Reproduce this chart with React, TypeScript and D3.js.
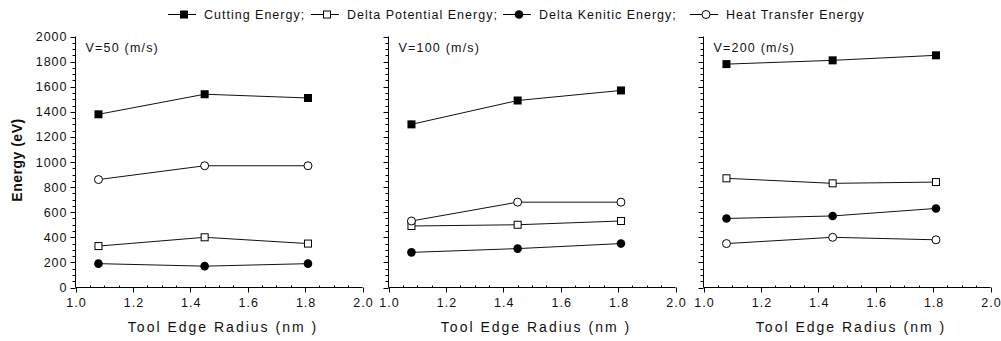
import React from 'react';
import * as d3 from 'd3';

// tool edge radius (nm) sampled in every panel
const radius = [1.08, 1.45, 1.81];
// one panel per cutting velocity
const panelLabels = ['V=50 (m/s)', 'V=100 (m/s)', 'V=200 (m/s)'];
// energies (eV), one row per panel
const cuttingEnergy = [
  [1380, 1540, 1510],
  [1300, 1490, 1570],
  [1780, 1810, 1850],
];
const potentialEnergy = [
  [330, 400, 350],
  [490, 500, 530],
  [870, 830, 840],
];
const kineticEnergy = [
  [190, 170, 190],
  [280, 310, 350],
  [550, 570, 630],
];
const heatEnergy = [
  [860, 970, 970],
  [530, 680, 680],
  [350, 400, 380],
];
const seriesNames = ['Cutting Energy;', 'Delta Potential Energy;', 'Delta Kenitic Energy;', 'Heat Transfer Energy'];
const yTicks = [0, 200, 400, 600, 800, 1000, 1200, 1400, 1600, 1800, 2000];
const xTicks = [1.0, 1.2, 1.4, 1.6, 1.8, 2.0];

const W = 1001;
const H = 341;
const panelLeft = [75.5, 388.5, 703.5];
const panelW = 287;
const top = 36.5;
const bottom = 287.5;
const legendX = [184, 327, 519, 706];
const font = '"Liberation Sans", Arial, sans-serif';
const ink = '#111';

type Shape = 'sq' | 'sqo' | 'ci' | 'cio';
const shapes: Shape[] = ['sq', 'sqo', 'ci', 'cio'];

const Marker = ({ x, y, shape }: { x: number; y: number; shape: Shape }) => {
  if (shape === 'sq') return <rect x={x - 4} y={y - 4} width={8} height={8} fill="#000" />;
  if (shape === 'sqo') return <rect x={x - 3.5} y={y - 3.5} width={7} height={7} fill="#fff" stroke="#000" strokeWidth={1} />;
  if (shape === 'ci') return <circle cx={x} cy={y} r={4.3} fill="#000" />;
  return <circle cx={x} cy={y} r={4} fill="#fff" stroke="#000" strokeWidth={1} />;
};

const Panel = ({ idx }: { idx: number }) => {
  const x0 = panelLeft[idx];
  const x = d3.scaleLinear().domain([1, 2]).range([x0, x0 + panelW]);
  const y = d3.scaleLinear().domain([0, 2000]).range([bottom, top]);
  const series = [cuttingEnergy[idx], potentialEnergy[idx], kineticEnergy[idx], heatEnergy[idx]];
  const line = d3.line<number>().x((_, i) => x(radius[i])).y((d) => y(d));
  const yMinor = d3.range(0, 2001, 50).filter((v) => v % 200 !== 0);
  const xMinor = d3.range(1, 2.0001, 0.05).filter((v) => Math.abs(Math.round(v * 5) - v * 5) > 0.01);

  return (
    <g>
      {/* axes */}
      <line x1={x0} x2={x0} y1={top} y2={bottom} stroke="#000" />
      <line x1={x0} x2={x0 + panelW} y1={bottom} y2={bottom} stroke="#000" />
      {yTicks.map((t) => (
        <g key={'y' + t}>
          <line x1={x0 - 5} x2={x0} y1={Math.round(y(t)) + 0.5} y2={Math.round(y(t)) + 0.5} stroke="#000" />
          {idx === 0 && (
            <text x={x0 - 8} y={y(t) + 4.5} textAnchor="end" fontSize={12.5} letterSpacing={1} fill={ink}>
              {t}
            </text>
          )}
        </g>
      ))}
      {yMinor.map((t) => (
        <line key={'ym' + t} x1={x0 - 3} x2={x0} y1={Math.round(y(t)) + 0.5} y2={Math.round(y(t)) + 0.5} stroke="#000" />
      ))}
      {xTicks.map((t) => (
        <g key={'x' + t}>
          <line x1={Math.round(x(t)) + 0.5} x2={Math.round(x(t)) + 0.5} y1={bottom} y2={bottom + 5} stroke="#000" />
          <text x={x(t) + 1} y={bottom + 19} textAnchor="middle" fontSize={12.5} letterSpacing={1} fill={ink}>
            {t.toFixed(1)}
          </text>
        </g>
      ))}
      {xMinor.map((t) => (
        <line key={'xm' + t} x1={Math.round(x(t)) + 0.5} x2={Math.round(x(t)) + 0.5} y1={bottom - 2} y2={bottom} stroke="#000" />
      ))}
      <text x={x0 + panelW / 2 + 4} y={bottom + 44} textAnchor="middle" fontSize={14} letterSpacing={2} fill={ink}>
        Tool Edge Radius (nm )
      </text>
      <text x={x0 + 10} y={52} fontSize={12.5} letterSpacing={1.2} fill={ink}>
        {panelLabels[idx]}
      </text>
      {/* series */}
      {series.map((s, si) => (
        <g key={'s' + si}>
          <path d={line(s) || ''} fill="none" stroke="#111" strokeWidth={1} />
          {s.map((v, i) => (
            <Marker key={i} x={x(radius[i])} y={y(v)} shape={shapes[si]} />
          ))}
        </g>
      ))}
    </g>
  );
};

export default function App() {
  return (
    <svg width={W} height={H} style={{ display: 'block', position: 'absolute', left: 0, top: 0, background: '#fff' }} fontFamily={font}>
      <rect width={W} height={H} fill="#fff" />
      {/* legend */}
      {seriesNames.map((name, i) => (
        <g key={name}>
          <line x1={legendX[i] - 16} x2={legendX[i] + 12} y1={14.5} y2={14.5} stroke="#000" />
          <Marker x={legendX[i]} y={14.5} shape={shapes[i]} />
          <text x={legendX[i] + 20} y={19} fontSize={12.5} letterSpacing={1} fill={ink}>
            {name}
          </text>
        </g>
      ))}
      <text transform="translate(22,160) rotate(-90)" textAnchor="middle" fontSize={14} fontWeight="bold" letterSpacing={0.5} fill={ink}>
        Energy (eV)
      </text>
      {panelLabels.map((_, i) => (
        <Panel key={i} idx={i} />
      ))}
    </svg>
  );
}
